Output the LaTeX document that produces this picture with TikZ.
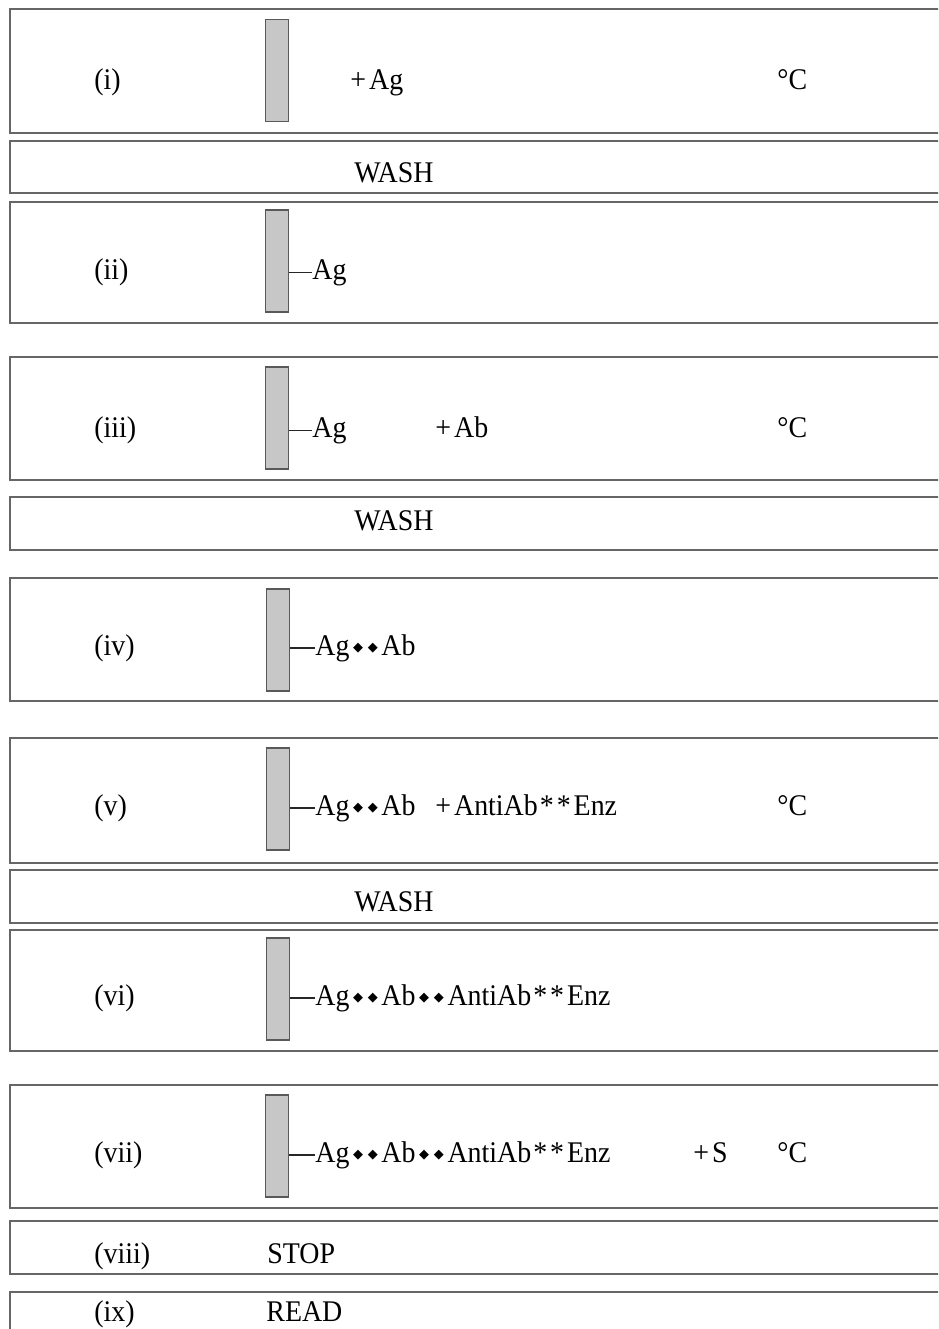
\documentclass[tikz,border=0pt]{standalone}
\usepackage{fontspec}
\setmainfont{Liberation Serif}[FakeStretch=0.93]
\newfontfamily\symf{DejaVu Sans}
\newcommand{\dia}{\raisebox{0.28ex}{\symf\fontsize{6.5}{6.5}\selectfont ◆}}
\newcommand{\dd}{\hspace{0.12em}\dia\hspace{0.16em}\dia\hspace{0.12em}}
\newcommand{\pl}{+\kern1.5pt}
\newcommand{\st}{\kern1pt*\kern1.5pt*\kern1.5pt}

\begin{document}
\begin{tikzpicture}[x=0.5pt, y=-0.5pt,
	frame/.style={draw=black!60, line width=0.9pt},
	strip/.style={draw=black!65, fill=black!22, line width=0.7pt, minimum width=11.5pt, minimum height=51pt, inner sep=0pt},
	txt/.style={anchor=base west, inner sep=0pt, font=\fontsize{15}{18}\selectfont},
	link/.style={draw=black!85, line width=0.8pt}]
\useasboundingbox (0,0) rectangle (938,1329);
\clip (0,0) rectangle (938,1329);

	%% Kaesten
	\foreach \t/\b in {9/133, 141/193, 202/323, 357/480, 497/550, 578/701, 738/863, 870/923, 930/1051, 1085/1208, 1221/1274, 1292/1360}
		\draw[frame] (950,\t) -- (10,\t) -- (10,\b) -- (950,\b);

	%% (i)
	\node[txt] (lab1) at (94,89) {(i)};
	\node[strip] (bar1) at (277,70.5) {};
	\node[txt] (add1) at (350,89) {\pl Ag};
	\node[txt] (deg1) at (777,89) {°C};
	\node[txt] (wash1) at (354,182) {WASH};

	%% (ii)
	\node[txt] (lab2) at (94,279) {(ii)};
	\node[strip] (bar2) at (277,261) {};
	\node[txt] (ag2) at (312,279) {Ag};
	\draw[link] (bar2.east |- ag2.west) -- (ag2.west);

	%% (iii)
	\node[txt] (lab3) at (94,437) {(iii)};
	\node[strip] (bar3) at (277,418) {};
	\node[txt] (ag3) at (312,437) {Ag};
	\node[txt] (add3) at (435,437) {\pl Ab};
	\node[txt] (deg3) at (777,437) {°C};
	\draw[link] (bar3.east |- ag3.west) -- (ag3.west);
	\node[txt] (wash2) at (354,530) {WASH};

	%% (iv)
	\node[txt] (lab4) at (94,655) {(iv)};
	\node[strip] (bar4) at (278,640) {};
	\node[txt] (ag4) at (315,655) {Ag\dd Ab};
	\draw[link] (bar4.east |- ag4.west) -- (ag4.west);

	%% (v)
	\node[txt] (lab5) at (94,815) {(v)};
	\node[strip] (bar5) at (278,799) {};
	\node[txt] (ag5) at (315,815) {Ag\dd Ab};
	\node[txt] (add5) at (435,815) {\pl AntiAb\st Enz};
	\node[txt] (deg5) at (777,815) {°C};
	\draw[link] (bar5.east |- ag5.west) -- (ag5.west);
	\node[txt] (wash3) at (354,911) {WASH};

	%% (vi)
	\node[txt] (lab6) at (94,1005) {(vi)};
	\node[strip] (bar6) at (278,989) {};
	\node[txt] (ag6) at (315,1005) {Ag\dd Ab\dd AntiAb\st Enz};
	\draw[link] (bar6.east |- ag6.west) -- (ag6.west);

	%% (vii)
	\node[txt] (lab7) at (94,1162) {(vii)};
	\node[strip] (bar7) at (277,1146) {};
	\node[txt] (ag7) at (315,1162) {Ag\dd Ab\dd AntiAb\st Enz};
	\node[txt] (add7) at (693,1162) {\pl S};
	\node[txt] (deg7) at (777,1162) {°C};
	\draw[link] (bar7.east |- ag7.west) -- (ag7.west);

	%% (viii), (ix)
	\node[txt] (lab8) at (94,1263) {(viii)};
	\node[txt] (stop) at (267,1263) {STOP};
	\node[txt] (lab9) at (94,1321) {(ix)};
	\node[txt] (read) at (266,1321) {READ};
\end{tikzpicture}
\end{document}
